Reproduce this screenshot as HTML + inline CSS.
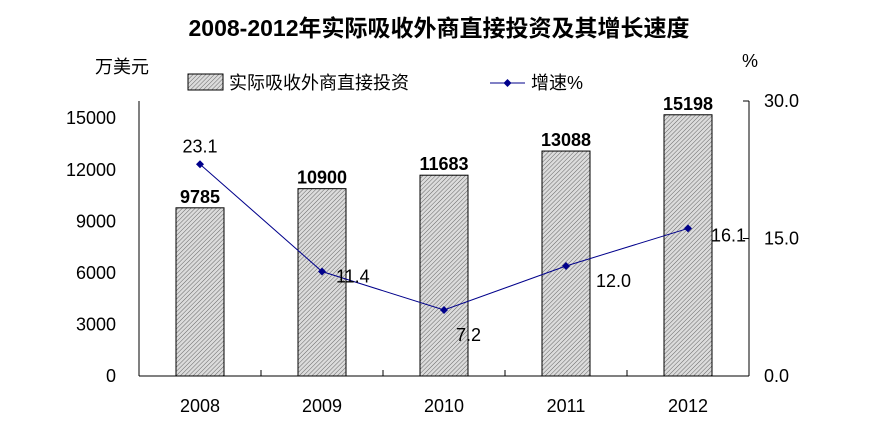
<!DOCTYPE html>
<html><head><meta charset="utf-8"><style>
body{margin:0;background:#fff;}
svg text{font-family:"Liberation Sans","Noto Sans CJK SC",sans-serif;}
</style></head><body>
<svg width="878" height="434" viewBox="0 0 878 434">
<defs><pattern id="hatch" width="3" height="3" patternUnits="userSpaceOnUse" patternTransform="rotate(45)">
<rect width="3" height="3" fill="#dcdcdc"/><line x1="0" y1="0" x2="0" y2="3" stroke="#666" stroke-width="1"/></pattern></defs>
<text x="439" y="36" text-anchor="middle" font-size="23" font-weight="bold">2008-2012年实际吸收外商直接投资及其增长速度</text>
<text x="95" y="73" font-size="18">万美元</text>
<text x="742" y="67" font-size="18">%</text>
<g>
<rect x="188" y="74" width="35" height="16" fill="url(#hatch)" stroke="#000"/>
<text x="229" y="89" font-size="18">实际吸收外商直接投资</text>
<line x1="490" y1="83" x2="525" y2="83" stroke="#00008b"/>
<path d="M507.5 79 L511.5 83 L507.5 87 L503.5 83Z" fill="#00008b"/>
<text x="531" y="89" font-size="18">增速%</text>
</g>
<g id="plot"></g>
</svg>
<script>
const categories=["2008","2009","2010","2011","2012"];
const investment=[9785,10900,11683,13088,15198];
const growth=[23.1,11.4,7.2,12.0,16.1];
const leftTicks=[0,3000,6000,9000,12000,15000];
const rightTicks=["0.0","15.0","30.0"];
const L=139,R=749,B=376,T=101,LMAX=16000,RMAX=30;
const cw=(R-L)/categories.length;
const xc=i=>L+cw*(i+0.5);
const yl=v=>B-(v/LMAX)*(B-T);
const yr=v=>B-(v/RMAX)*(B-T);
const g=document.getElementById('plot');
const NS="http://www.w3.org/2000/svg";
function mk(tag,attrs,txt){const e=document.createElementNS(NS,tag);for(const k in attrs)e.setAttribute(k,attrs[k]);if(txt!==undefined)e.textContent=txt;g.appendChild(e);return e;}
let e;
e=mk('line',{x1:L,y1:T,x2:L,y2:B,stroke:'#000'});


e=mk('line',{x1:R,y1:T,x2:R,y2:B,stroke:'#000'});


e=mk('line',{x1:L,y1:B,x2:R,y2:B,stroke:'#000'});


leftTicks.forEach(v=>{
 e=mk('text',{x:L-23,y:yl(v)+6,'text-anchor':'end','font-size':18},String(v));
 
 
});
rightTicks.forEach(s=>{
 const v=parseFloat(s);
 mk('line',{x1:R-6,y1:yr(v),x2:R,y2:yr(v),stroke:'#000'});
 e=mk('text',{x:R+15,y:yr(v)+6,'font-size':18},s);
 
 
});
for(let i=1;i<categories.length;i++){mk('line',{x1:L+cw*i,y1:B-6,x2:L+cw*i,y2:B,stroke:'#000'});}
const bw=48;
categories.forEach((c,i)=>{
 e=mk('rect',{x:xc(i)-bw/2,y:yl(investment[i]),width:bw,height:B-yl(investment[i]),fill:'url(#hatch)',stroke:'#000'});
 
 
 e=mk('text',{x:xc(i),y:yl(investment[i])-5,'text-anchor':'middle','font-size':18,'font-weight':'bold'},String(investment[i]));
 
 
 e=mk('text',{x:xc(i),y:B+36,'text-anchor':'middle','font-size':18},c);
 
 
});
e=mk('polyline',{points:growth.map((v,i)=>xc(i)+','+yr(v)).join(' '),fill:'none',stroke:'#00008b','stroke-width':1});


const off=[[0,-12,'middle'],[14,11,'start'],[12,31,'start'],[30,21,'start'],[23,13,'start']];
growth.forEach((v,i)=>{
 const x=xc(i),y=yr(v);
 e=mk('path',{d:`M${x} ${y-4}L${x+4} ${y}L${x} ${y+4}L${x-4} ${y}Z`,fill:'#00008b'});
 
 
 e=mk('text',{x:x+off[i][0],y:y+off[i][1],'text-anchor':off[i][2],'font-size':18},v.toFixed(1));
 
 
});
</script>
</body></html>
